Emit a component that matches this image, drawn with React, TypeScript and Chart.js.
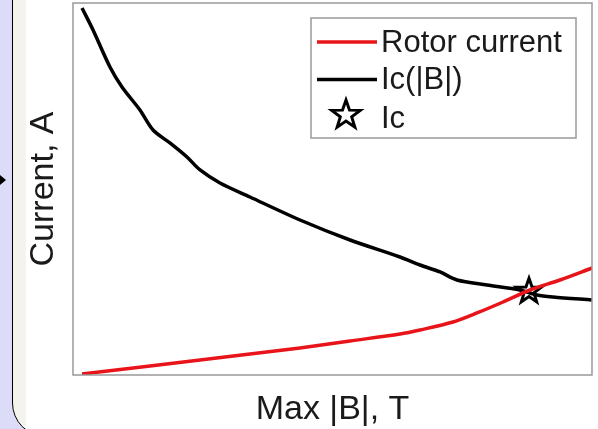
import { useEffect, useRef } from "react";
import { Chart, registerables } from "chart.js";

Chart.register(...registerables);

// Rotor current vs. peak field in the winding
const rotorB = [0.087, 0.742, 1.224, 1.705, 2.187, 2.669, 3.15, 3.343, 3.661, 3.892, 4.143, 4.403, 4.692, 5.0];
const rotorCurrent = [0.27, 2.42, 4.03, 5.65, 7.26, 9.14, 11.02, 12.1, 14.25, 16.67, 19.62, 22.85, 25.54, 28.76];

// Critical current of the conductor as a function of |B|
const icB = [0.087, 0.193, 0.356, 0.472, 0.645, 0.771, 0.934, 1.098, 1.224, 1.416, 1.705, 2.187, 2.669, 3.15, 3.343, 3.536, 3.699, 3.988, 4.306, 4.47, 4.624, 5.0];
const icCurrent = [98.66, 92.74, 82.8, 77.42, 71.24, 65.86, 62.37, 58.6, 55.11, 51.61, 47.85, 41.67, 36.29, 31.72, 29.57, 27.69, 25.54, 24.19, 22.85, 21.51, 20.97, 20.16];

// Operating limit: where the rotor current meets Ic(|B|)
const critB = [4.393];
const critCurrent = [22.85];

const seriesLabels = ["Rotor current", "Ic(|B|)", "Ic"];
const xTitle = "Max |B|, T";
const yTitle = "Current, A";

const FONT = '"Liberation Sans", Arial, Helvetica, sans-serif';
const TEXT = "#1a1a1a";
const FRAME = "#999999";
const RED = "#e8141a";

const zip = (xs: number[], ys: number[]) => xs.map((x, i) => ({ x, y: ys[i] }));

function traceStar(ctx: CanvasRenderingContext2D, cx: number, cy: number, r: number) {
  const inner = r * 0.4;
  ctx.beginPath();
  for (let i = 0; i < 10; i++) {
    const a = -Math.PI / 2 + (i * Math.PI) / 5;
    const rr = i % 2 === 0 ? r : inner;
    const px = cx + rr * Math.cos(a);
    const py = cy + rr * Math.sin(a);
    if (i === 0) ctx.moveTo(px, py);
    else ctx.lineTo(px, py);
  }
  ctx.closePath();
}

function makeStar(r: number, lw: number): HTMLCanvasElement {
  const size = Math.ceil(2 * (r + lw)) + 2;
  const c = document.createElement("canvas");
  c.width = size;
  c.height = size;
  const ctx = c.getContext("2d")!;
  ctx.lineWidth = lw;
  ctx.lineJoin = "miter";
  ctx.strokeStyle = "#000";
  traceStar(ctx, size / 2, size / 2 + r * 0.1, r);
  ctx.stroke();
  return c;
}

// Grey box around the plotting area
const framePlugin = {
  id: "axesFrame",
  afterDatasetsDraw(chart: any) {
    const { ctx, chartArea: a } = chart;
    ctx.save();
    ctx.strokeStyle = FRAME;
    ctx.lineWidth = 1.5;
    ctx.strokeRect(a.left, a.top, a.right - a.left, a.bottom - a.top);
    ctx.restore();
  },
};

// Boxed legend in the upper right corner of the axes
const legendPlugin = {
  id: "boxLegend",
  afterDraw(chart: any) {
    const { ctx, chartArea: a } = chart;
    const ds = chart.data.datasets;
    const right = a.right - 16;
    const left = right - 265;
    const top = a.top + 15;
    const bottom = top + 120;
    ctx.save();
    ctx.fillStyle = "#ffffff";
    ctx.fillRect(left, top, right - left, bottom - top);
    ctx.strokeStyle = FRAME;
    ctx.lineWidth = 1.5;
    ctx.strokeRect(left, top, right - left, bottom - top);

    const rows = [top + 25, top + 62.5, top + 101];
    ctx.font = `31px ${FONT}`;
    ctx.textBaseline = "middle";
    ctx.textAlign = "left";
    ds.forEach((d: any, i: number) => {
      const y = rows[i];
      if (d.showLine) {
        ctx.strokeStyle = d.borderColor;
        ctx.lineWidth = d.borderWidth;
        ctx.beginPath();
        ctx.moveTo(left + 6, y - 1);
        ctx.lineTo(left + 66, y - 1);
        ctx.stroke();
      } else {
        ctx.strokeStyle = "#000";
        ctx.lineWidth = 3;
        traceStar(ctx, left + 35, y - 4, 15);
        ctx.stroke();
      }
      ctx.fillStyle = TEXT;
      ctx.fillText(d.label, left + 70, y);
    });
    ctx.restore();
  },
};

export default function App() {
  const ref = useRef<HTMLCanvasElement | null>(null);

  useEffect(() => {
    if (!ref.current) return;
    const star = makeStar(13, 3);
    const chart = new Chart(ref.current, {
      type: "scatter",
      data: {
        datasets: [
          {
            label: seriesLabels[0],
            data: zip(rotorB, rotorCurrent),
            showLine: true,
            borderColor: RED,
            backgroundColor: RED,
            borderWidth: 3.5,
            pointRadius: 0,
            tension: 0.3,
          },
          {
            label: seriesLabels[1],
            data: zip(icB, icCurrent),
            showLine: true,
            borderColor: "#000000",
            backgroundColor: "#000000",
            borderWidth: 3.5,
            pointRadius: 0,
            tension: 0.3,
          },
          {
            label: seriesLabels[2],
            data: zip(critB, critCurrent),
            showLine: false,
            pointStyle: star as any,
            pointRadius: 12,
            borderColor: "#000000",
            backgroundColor: "transparent",
          },
        ],
      },
      options: {
        responsive: false,
        animation: false,
        events: [],
        layout: { autoPadding: false, padding: { left: 0, top: 3, right: 6, bottom: 0 } },
        plugins: {
          legend: { display: false },
          tooltip: { enabled: false },
        },
        scales: {
          x: {
            type: "linear",
            min: 0,
            max: 5,
            grid: { display: false },
            border: { display: false },
            ticks: { display: false },
            title: {
              display: true,
              text: xTitle,
              color: TEXT,
              font: { family: FONT, size: 34, lineHeight: 1 },
              padding: { top: 0, bottom: 2 },
            },
            afterFit: (s: any) => {
              s.height = 54;
            },
          },
          y: {
            type: "linear",
            min: 0,
            max: 100,
            grid: { display: false },
            border: { display: false },
            ticks: { display: false },
            title: {
              display: true,
              text: yTitle,
              color: TEXT,
              font: { family: FONT, size: 34, lineHeight: 1 },
              padding: { top: 1, bottom: 0 },
            },
            afterFit: (s: any) => {
              s.width = 47;
            },
          },
        },
      },
      plugins: [framePlugin, legendPlugin],
    });
    return () => chart.destroy();
  }, []);

  return (
    <div
      style={{
        position: "fixed",
        left: 0,
        top: 0,
        width: 598,
        height: 429,
        overflow: "hidden",
        background: "#dcdcf9",
      }}
    >
      <div
        style={{
          position: "absolute",
          left: 12,
          top: -40,
          width: 700,
          height: 477,
          boxSizing: "border-box",
          border: "1.5px solid #000",
          borderRadius: 34,
          background: "#f5f3ee",
        }}
      />
      <div
        style={{
          position: "absolute",
          left: 0,
          top: 175,
          width: 0,
          height: 0,
          borderTop: "5px solid transparent",
          borderBottom: "5px solid transparent",
          borderLeft: "6px solid #000",
        }}
      />
      <div style={{ position: "absolute", left: 26, top: 0, width: 572, height: 429, background: "#fff" }}>
        <canvas ref={ref} width={572} height={429} style={{ display: "block" }} />
      </div>
    </div>
  );
}
